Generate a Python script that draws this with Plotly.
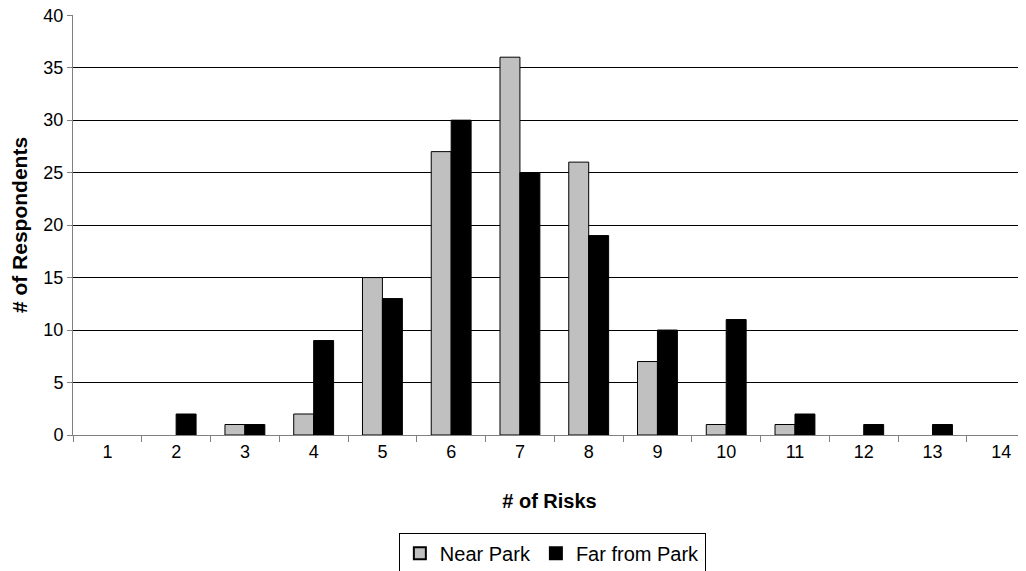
import plotly.graph_objects as go

categories = [str(i) for i in range(1, 15)]
near_park = [0, 0, 1, 2, 15, 27, 36, 26, 7, 1, 1, 0, 0, 0]
far_from_park = [0, 2, 1, 9, 13, 30, 25, 19, 10, 11, 2, 1, 1, 0]

font_family = "Liberation Sans, Arial, sans-serif"


def outline_widths(values):
    return [1 if v else 0 for v in values]


fig = go.Figure()
fig.add_trace(go.Bar(x=categories, y=near_park, name="Near Park",
                     marker=dict(color="#c0c0c0",
                                 line=dict(color="black", width=outline_widths(near_park)))))
fig.add_trace(go.Bar(x=categories, y=far_from_park, name="Far from Park",
                     marker=dict(color="black",
                                 line=dict(color="black", width=outline_widths(far_from_park)))))

fig.update_layout(
    width=1026, height=571,
    margin=dict(l=65, r=8, t=7, b=143),
    paper_bgcolor="white", plot_bgcolor="white",
    barmode="group", bargap=0.42, bargroupgap=0,
    font=dict(family=font_family, size=18, color="black"),
    showlegend=True,
    legend=dict(orientation="h", x=0.503, xanchor="center", y=-0.23, yanchor="top",
                bordercolor="black", borderwidth=1, font=dict(size=20),
                itemsizing="constant", tracegroupgap=0, itemwidth=30),
    xaxis=dict(type="category", range=[-0.5, 13.36], tickson="boundaries",
               ticks="outside", ticklen=6, tickcolor="#808080", automargin=False,
               showline=True, linecolor="#808080", linewidth=1,
               showgrid=False, tickfont=dict(size=18),
               title=dict(text="<b># of Risks</b>", font=dict(size=20), standoff=33)),
    yaxis=dict(range=[0, 40.02], tickmode="array", tickvals=[0, 5, 10, 15, 20, 25, 30, 35, 40],
               ticks="outside", ticklen=5, tickcolor="#808080",
               showline=True, linecolor="#808080", linewidth=1, automargin=False,
               showgrid=True, gridcolor="black", gridwidth=1, ticklabeloverflow="allow",
               tickfont=dict(size=18), zeroline=False,
               title=dict(text="<b># of Respondents</b>", font=dict(size=21), standoff=20)),
)

fig.write_html("out.html")
